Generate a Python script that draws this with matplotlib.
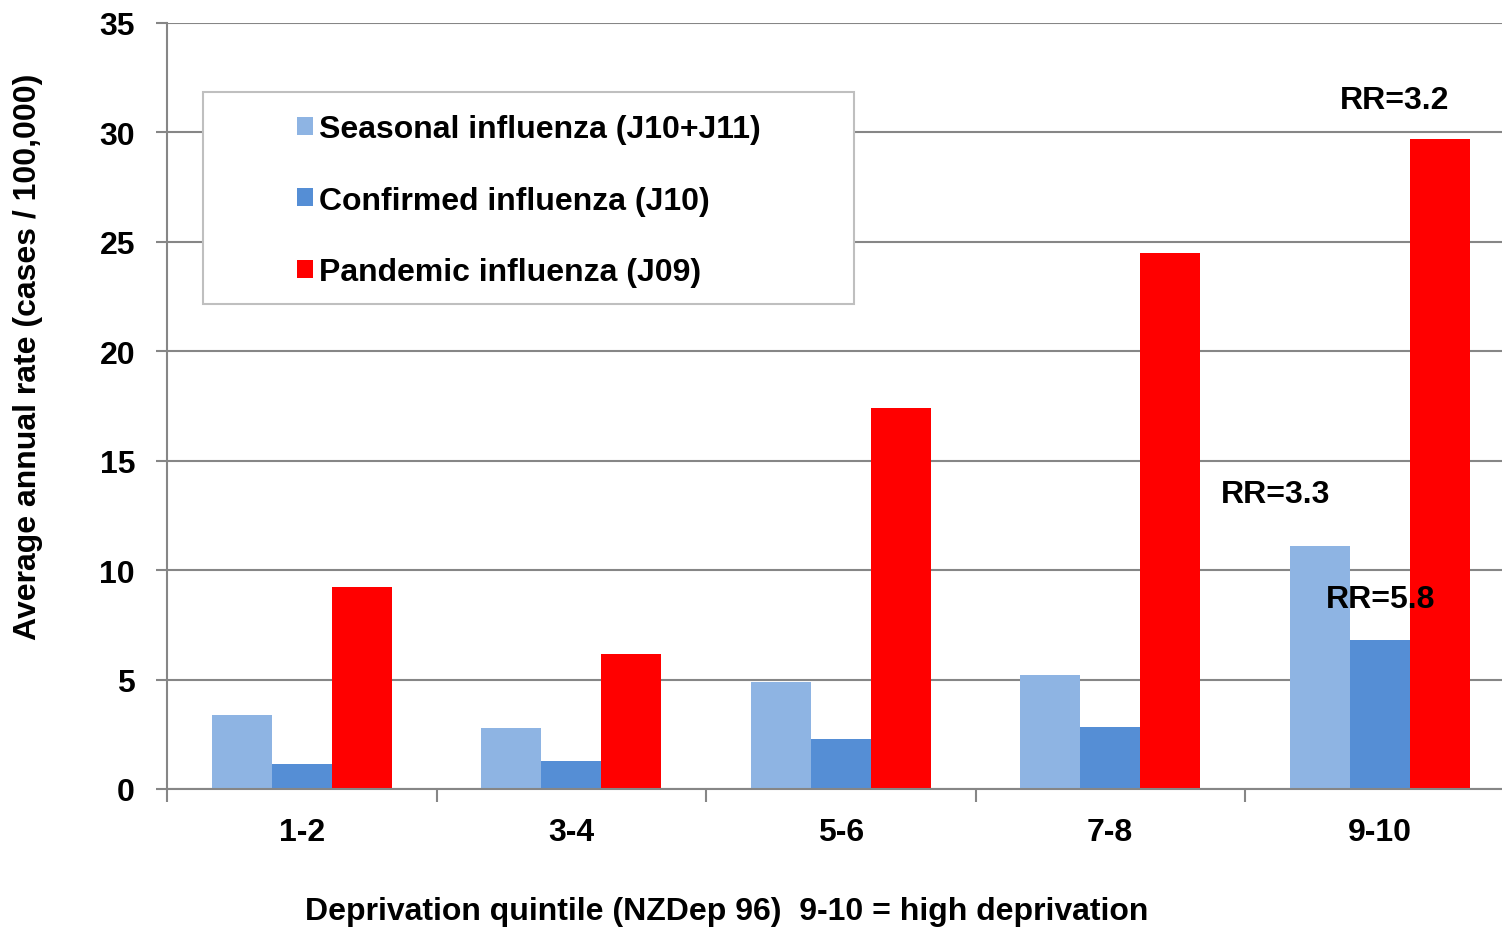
import matplotlib.pyplot as plt
from matplotlib.patches import Rectangle, Patch
import numpy as np

plt.rcParams['font.family'] = ['Liberation Sans', 'DejaVu Sans']
plt.rcParams['font.weight'] = 'bold'
plt.rcParams['axes.labelweight'] = 'bold'

# data
quintiles = ['1-2', '3-4', '5-6', '7-8', '9-10']
seasonal = [3.4, 2.8, 4.9, 5.2, 11.1]
confirmed = [1.15, 1.3, 2.3, 2.85, 6.8]
pandemic = [9.25, 6.15, 17.4, 24.5, 29.7]
series_names = ['Seasonal influenza (J10+J11)', 'Confirmed influenza (J10)', 'Pandemic influenza (J09)']
colors = ['#8EB4E3', '#558ED5', '#FF0000']
rr_labels = [('RR=3.2', 4.555, 31.5), ('RR=3.3', 4.115, 13.5), ('RR=5.8', 4.505, 8.7)]

W, H = 1502, 929
fs = 23
fig = plt.figure(figsize=(W / 100, H / 100), dpi=100)
cat_px = 269.5
ax = fig.add_axes([167 / W, 1 - 790 / H, (W - 167) / W, (790 - 24) / H])

x = np.arange(len(quintiles)) + 0.5
bw = 60 / cat_px
for i, (vals, c) in enumerate(zip([seasonal, confirmed, pandemic], colors)):
    ax.bar(x + (i - 1) * bw, vals, width=bw, color=c, zorder=3, linewidth=0)

ax.set_xlim(0, (W - 167) / cat_px)
ax.set_ylim(0, 35)
ax.set_yticks(range(0, 36, 5))
ax.set_xticks(np.arange(0, 5))
ax.set_xticks(x, minor=True)
ax.set_xticklabels([])
ax.set_xticklabels(quintiles, minor=True)
ax.tick_params(axis='x', which='minor', length=0, pad=20, labelsize=fs)
ax.tick_params(axis='x', which='major', length=9, width=1.5, color='#868686', direction='out')
ax.tick_params(axis='y', length=8, width=1.5, color='#868686', pad=15, labelsize=fs)
ax.yaxis.grid(True, color='#868686', linewidth=1.5, zorder=0)
for s in ['top', 'right']:
    ax.spines[s].set_visible(False)
for s in ['left', 'bottom']:
    ax.spines[s].set_color('#868686')
    ax.spines[s].set_linewidth(1.5)
ax.spines['bottom'].set_zorder(4)

fig.text(28 / W, 1 - 357 / H, 'Average annual rate (cases / 100,000)', rotation=90,
         ha='center', va='center', fontsize=fs, fontweight='bold')
fig.text(727 / W, 1 - 912 / H, 'Deprivation quintile (NZDep 96)  9-10 = high deprivation',
         ha='center', va='center', fontsize=fs, fontweight='bold')

for txt, xx, yy in rr_labels:
    ax.text(xx, yy, txt, ha='center', va='center', fontsize=fs, zorder=5)

# legend box drawn by hand, entries in a frameless legend
fig.patches.append(Rectangle((203 / W, 1 - 305 / H), (854 - 203) / W, (305 - 93) / H,
                             transform=fig.transFigure, facecolor='white',
                             edgecolor='#BFBFBF', linewidth=1.5, zorder=10))
handles = [Patch(facecolor=c, edgecolor='none') for c in colors]
leg = fig.legend(handles, series_names, loc='upper left',
                 bbox_to_anchor=(297 / W, 1 - 115 / H), frameon=False,
                 fontsize=fs, handlelength=0.5, handleheight=0.5, handletextpad=0.2,
                 labelspacing=1.3, borderpad=0, borderaxespad=0)
leg.set_zorder(11)

fig.savefig('out.png', dpi=100)
